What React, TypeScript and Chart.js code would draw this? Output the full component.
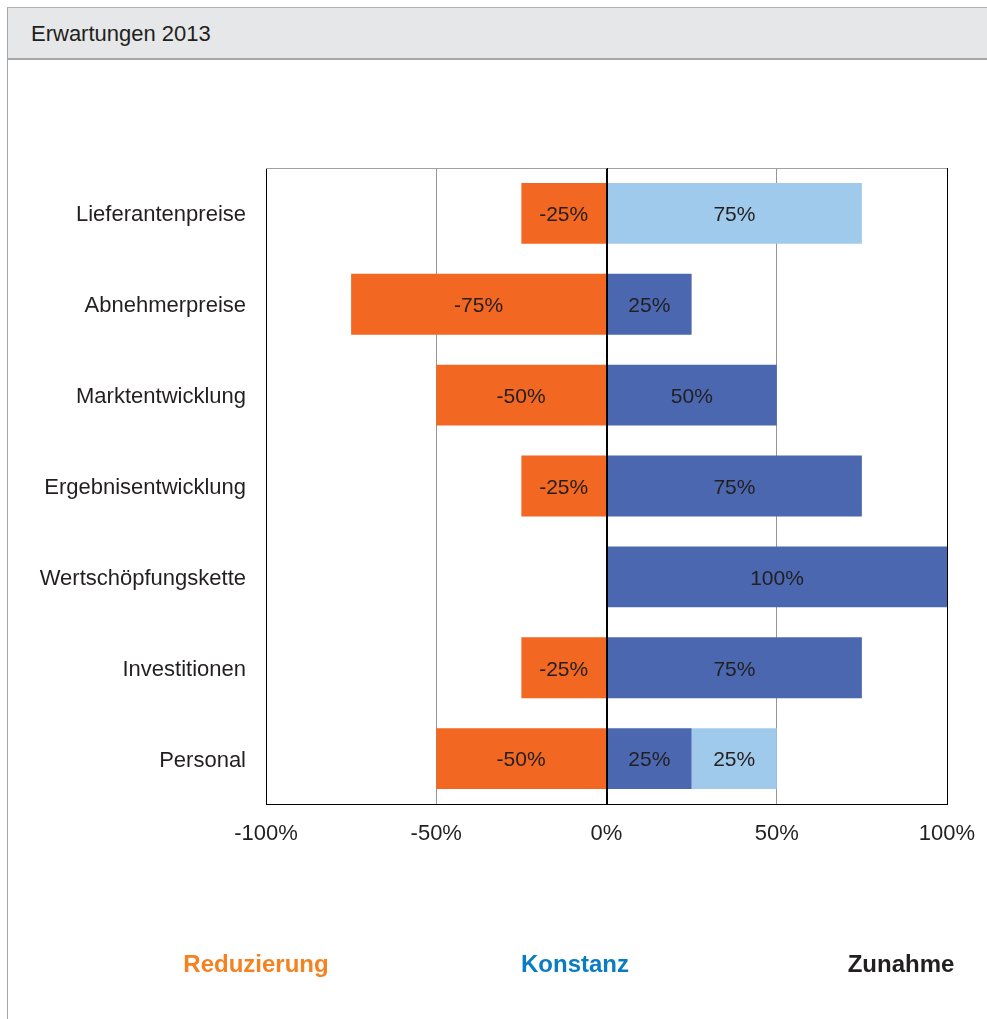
import React, { useEffect, useRef } from "react";
import { Chart, registerables } from "chart.js";
Chart.register(...registerables);

const title = "Erwartungen 2013";
const categories = [
  "Lieferantenpreise",
  "Abnehmerpreise",
  "Marktentwicklung",
  "Ergebnisentwicklung",
  "Wertschöpfungskette",
  "Investitionen",
  "Personal",
];
const reduzierung = [-25, -75, -50, -25, 0, -25, -50];
const konstanz = [0, 25, 50, 75, 100, 75, 25];
const zunahme = [75, 0, 0, 0, 0, 0, 25];
const xTickValues = [-100, -50, 0, 50, 100];
const legendLabels = ["Reduzierung", "Konstanz", "Zunahme"];
const legendColors = ["#f58220", "#0a7cc3", "#231f20"];

const FONT = "'Liberation Sans', Arial, sans-serif";
const TEXT = "#231f20";

const overlayPlugin = {
  id: "overlay",
  afterDatasetsDraw(chart: any) {
    const ctx = chart.ctx;
    const ca = chart.chartArea;
    const xs = chart.scales.x;
    ctx.save();
    ctx.strokeStyle = "#a0a0a0";
    ctx.lineWidth = 1;
    ctx.beginPath();
    ctx.moveTo(ca.left, Math.round(ca.top) + 0.5);
    ctx.lineTo(ca.right, Math.round(ca.top) + 0.5);
    ctx.stroke();
    const x0 = Math.round(xs.getPixelForValue(0)) + 0.5;
    ctx.strokeStyle = "#000000";
    ctx.beginPath();
    ctx.moveTo(x0, ca.top);
    ctx.lineTo(x0, ca.bottom);
    ctx.stroke();
    ctx.fillStyle = TEXT;
    ctx.font = `21px ${FONT}`;
    ctx.textAlign = "center";
    ctx.textBaseline = "middle";
    chart.data.datasets.forEach((ds: any, di: number) => {
      const meta = chart.getDatasetMeta(di);
      meta.data.forEach((el: any, i: number) => {
        const v = ds.data[i];
        if (!v) return;
        const cx = (el.x + el.base) / 2;
        ctx.fillText(`${v}%`, cx, el.y + 2);
      });
    });
    ctx.restore();
  },
};

export default function App() {
  const ref = useRef<HTMLCanvasElement | null>(null);
  useEffect(() => {
    if (!ref.current) return;
    const chart = new Chart(ref.current, {
      type: "bar",
      data: {
        labels: categories,
        datasets: [
          { label: legendLabels[0], data: reduzierung, backgroundColor: "#f26722", stack: "s" },
          { label: legendLabels[1], data: konstanz, backgroundColor: "#4a67b0", stack: "s" },
          { label: legendLabels[2], data: zunahme, backgroundColor: "#a0caeb", stack: "s" },
        ],
      },
      options: {
        indexAxis: "y",
        responsive: false,
        animation: false,
        events: [],
        categoryPercentage: 1,
        barPercentage: 0.67,
        layout: { padding: { left: 0, top: 168, right: 40, bottom: 155 } },
        plugins: { legend: { display: false }, tooltip: { enabled: false } },
        scales: {
          x: {
            stacked: true,
            min: -100,
            max: 100,
            afterFit: (s: any) => {
              s.height = 60;
              s.paddingLeft = 0;
              s.paddingRight = 0;
            },
            afterBuildTicks: (s: any) => {
              s.ticks = xTickValues.map((v) => ({ value: v }));
            },
            ticks: {
              callback: (v: any) => `${v}%`,
              color: TEXT,
              font: { family: FONT, size: 22 },
              padding: 17,
              maxRotation: 0,
            },
            grid: {
              drawTicks: false,
              color: (c: any) => {
                const v = c.tick && c.tick.value;
                if (v === 0 || v === 100 || v === -100) return "#000000";
                return "#959595";
              },
              lineWidth: 1,
            },
            border: { display: true, color: "#000000", width: 1 },
          },
          y: {
            stacked: true,
            afterFit: (s: any) => {
              s.width = 266;
            },
            ticks: {
              color: TEXT,
              font: { family: FONT, size: 22 },
              padding: 20,
              labelOffset: 2,
            },
            grid: { display: false, drawTicks: false },
            border: { display: true, color: "#000000", width: 1 },
          },
        },
      },
      plugins: [overlayPlugin],
    } as any);
    return () => chart.destroy();
  }, []);

  const legendCenters = [256, 575, 901];

  return (
    <div
      style={{
        position: "absolute",
        left: 0,
        top: 0,
        width: 987,
        height: 1019,
        overflow: "hidden",
        background: "#ffffff",
        fontFamily: FONT,
      }}
    >
      <div
        style={{
          position: "absolute",
          left: 7,
          top: 7,
          width: 1000,
          height: 1100,
          borderLeft: "1px solid #a6a6a6",
          borderTop: "1px solid #b0b0b0",
          boxSizing: "border-box",
        }}
      />
      <div
        style={{
          position: "absolute",
          left: 8,
          top: 8,
          width: 1000,
          height: 52,
          background: "#e6e7e8",
          borderBottom: "2px solid #a6a6a6",
          boxSizing: "border-box",
        }}
      />
      <div
        style={{
          position: "absolute",
          left: 31,
          top: 21,
          fontSize: 22,
          lineHeight: "26px",
          color: TEXT,
          whiteSpace: "nowrap",
        }}
      >
        {title}
      </div>
      <canvas
        ref={ref}
        width={987}
        height={1019}
        style={{ position: "absolute", left: 0, top: 0, width: 987, height: 1019 }}
      />
      {legendLabels.map((l, i) => (
        <div
          key={l}
          style={{
            position: "absolute",
            left: legendCenters[i] - 100,
            width: 200,
            top: 949,
            textAlign: "center",
            fontSize: 24,
            lineHeight: "30px",
            fontWeight: "bold",
            color: legendColors[i],
            whiteSpace: "nowrap",
          }}
        >
          {l}
        </div>
      ))}
    </div>
  );
}
